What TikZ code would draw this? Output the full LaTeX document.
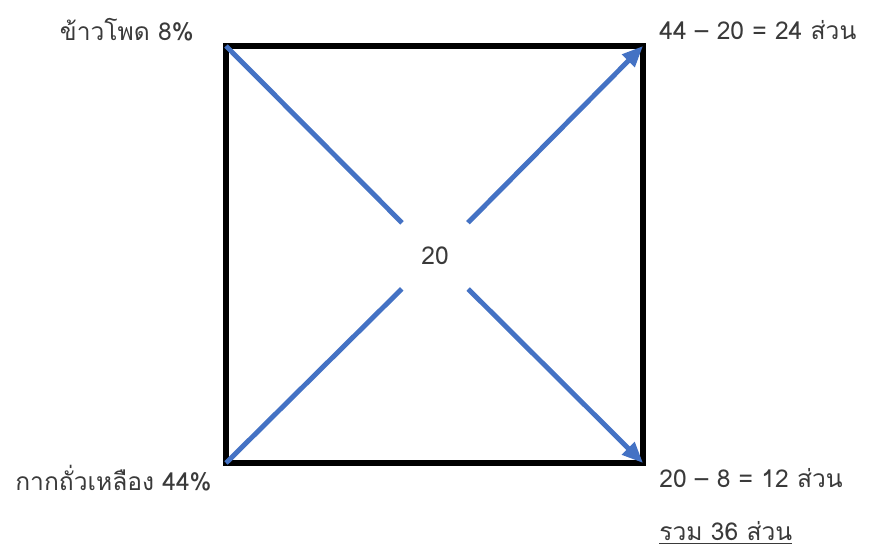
\documentclass[tikz,border=0pt]{standalone}
\usepackage{fontspec}
\newfontfamily\thaifont[Script=Thai]{Loma}
\usetikzlibrary{arrows.meta,shapes,positioning}
\definecolor{pblue}{HTML}{4472C4}
\definecolor{ptext}{HTML}{3A3A3A}

\begin{document}
\begin{tikzpicture}[x=0.02cm, y=-0.02cm, >=Triangle,
    lbl/.style={text=ptext, font=\thaifont\fontsize{14}{16}\selectfont, inner sep=0pt},
    arr/.style={line width=2.8pt, pblue},
    frame/.style={line width=2.9pt, black}]

  \useasboundingbox (0,0) rectangle (872,550);

  %% square
  \coordinate (tl) at (226,46);
  \coordinate (tr) at (643,46);
  \coordinate (bl) at (226,463);
  \coordinate (br) at (643,463);
  \draw[frame] (tl) -- (tr) -- (br) -- (bl) -- cycle;

  %% centre value
  \node[lbl, circle, minimum size=1.86cm] (mid) at (435,256) {20};

  %% blue lines through the centre
  \draw[arr] (tl) -- (mid);
  \draw[arr] (bl) -- (mid);
  \draw[arr, -{Triangle[length=0.42cm,width=0.34cm]}] (mid) -- (tr);
  \draw[arr, -{Triangle[length=0.42cm,width=0.34cm]}] (mid) -- (br);

  %% corner labels
  \node[lbl, anchor=east] (corn) at (194,30) {ข้าวโพด 8\%};
  \node[lbl, anchor=east] (soy) at (212,478) {กากถั่วเหลือง 44\%};
  \node[lbl, anchor=west] (top) at (659,30) {44 – 20 = 24 ส่วน};
  \node[lbl, anchor=west] (bot) at (659,478) {20 – 8 = 12 ส่วน};
  \node[lbl, anchor=west] (sum) at (659,533) {\underline{รวม 36 ส่วน}};

\end{tikzpicture}
\end{document}
